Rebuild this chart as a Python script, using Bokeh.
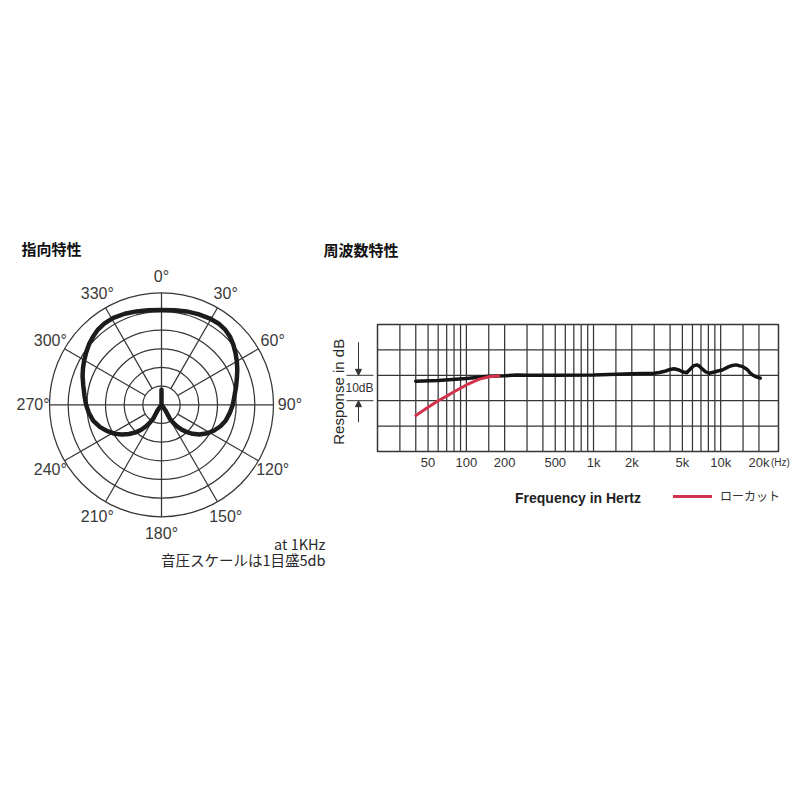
import math
from bokeh.plotting import figure
from bokeh.models import (Range1d, LogScale, LinearScale, Legend, LegendItem, Arrow,
                          NormalHead)
from bokeh.core.properties import value
from bokeh.embed import file_html
from bokeh.resources import INLINE

# ---------------- data ----------------
# polar pattern (angle in degrees clockwise from front, level in dB; centre = -30 dB)
polar_angle = [0, 8, 15, 22, 29, 35, 40, 45, 50, 55, 60, 65, 70, 76, 83, 90, 97, 104, 110,
               116, 122, 128, 133, 137, 141, 144, 147, 149, 148, 145, 180, 0, 180,
               215, 212, 211, 213, 216, 219, 223, 228, 233, 238, 244, 250, 257, 264, 270,
               277, 284, 290, 295, 300, 305, 310, 315, 320, 325, 331, 338, 345, 352, 360]
polar_level = [-4.6, -4.4, -4.1, -3.8, -3.5, -3.4, -3.6, -4.1, -4.9, -5.8, -6.7, -7.6, -8.5,
               -9.4, -10.3, -10.9, -11.6, -12.3, -13.2, -14.3, -15.6, -17.1, -18.6, -20.0,
               -21.5, -22.8, -24.3, -25.6, -26.8, -28.1, -30.0, -26.0, -30.0,
               -28.1, -26.8, -25.6, -24.3, -22.8, -21.4, -19.9, -18.3, -16.8, -15.3, -13.9,
               -12.5, -11.2, -10.4, -9.8, -9.2, -8.4, -7.5, -6.8, -6.1, -5.4, -4.7, -4.1,
               -3.6, -3.4, -3.4, -3.7, -4.1, -4.4, -4.6]
ring_levels = [-25, -20, -15, -10, -5, 0]
spoke_angles = [0, 30, 60, 90, 120, 150, 180, 210, 240, 270, 300, 330]
spoke_labels = ["0°", "30°", "60°", "90°", "120°", "150°", "180°", "210°", "240°",
                "270°", "300°", "330°"]

# frequency response
freq_black = [40, 60, 100, 150, 200, 250, 300, 500, 1000, 2000, 3000, 3300, 3700, 4000,
              4300, 4700, 5000, 5400, 5800, 6100, 6500, 6800, 7200, 7600, 8100, 8900, 9500,
              10300, 11600, 12400, 13200, 14900, 15600, 16300, 17000, 18000, 19000, 20500]
resp_black = [-2.3, -2.0, -1.3, -0.4, -0.2, 0.1, 0.0, 0.0, 0.1, 0.6, 0.8, 1.1, 1.7, 2.3,
              2.6, 2.1, 1.4, 1.0, 2.6, 3.7, 4.1, 3.6, 2.4, 1.4, 0.8, 1.3, 1.7,
              2.1, 3.4, 3.9, 4.1, 3.4, 2.8, 2.1, 1.0, 0.0, -0.6, -1.1]
freq_red = [40, 50, 60, 70, 80, 100, 125, 150, 180]
resp_red = [-15.8, -12.6, -10.0, -8.2, -6.5, -3.8, -1.6, -0.6, -0.3]

freq_span = [20, 28500]
db_span = [-30, 20]
grid_freqs = [30, 40, 50, 60, 70, 80, 90, 100, 150, 200, 300, 400, 500, 600, 700, 800, 900,
              1000, 1500, 2000, 3000, 4000, 5000, 6000, 7000, 8000, 9000, 10000, 15000, 20000]
grid_db = [-20, -10, 0, 10]
x_ticks = [50, 100, 200, 500, 1000, 2000, 5000, 10000, 20000]
x_tick_labels = ["50", "100", "200", "500", "1k", "2k", "5k", "10k", "20k"]

GRID = "#363636"
TXT = "#2a2a2a"

# ---------------- canvas / coordinate systems ----------------
W, H = 796, 600
CX, CY = 161.0, 404.3          # polar centre (px)
PPD = 112.0 / 30.0             # polar px per dB
FLOOR = -30

FR_L, FR_R, FR_T, FR_B = 377, 778, 324, 451   # response chart box (px)
F_MIN, F_MAX = freq_span
DB_MIN, DB_MAX = db_span
PXD = (FR_R - FR_L) / math.log10(F_MAX / F_MIN)
DBPX = (DB_MAX - DB_MIN) / (FR_B - FR_T)


def pxx(ix):
    return (ix - CX) / PPD


def pxy(iy):
    return (CY - iy) / PPD


def hz_at(ix):
    return F_MIN * 10 ** ((ix - FR_L) / PXD)


def db_at(iy):
    return DB_MIN + (FR_B - iy) * DBPX


p = figure(frame_width=W, frame_height=H,
           x_range=Range1d(pxx(0), pxx(W)), y_range=Range1d(pxy(H), pxy(0)),
           x_axis_location=None, y_axis_location=None, toolbar_location=None,
           output_backend="svg", min_border=0, outline_line_color=None)
p.grid.visible = False
p.extra_x_ranges = {"f": Range1d(hz_at(0), hz_at(W))}
p.extra_x_scales = {"f": LogScale()}
p.extra_y_ranges = {"db": Range1d(db_at(H), db_at(0))}
p.extra_y_scales = {"db": LinearScale()}
FD = dict(x_range_name="f", y_range_name="db")

# ---------------- polar pattern ----------------
ring_r = [lv - FLOOR for lv in ring_levels]
p.circle(x=[0] * len(ring_r), y=[0] * len(ring_r), radius=ring_r, fill_color=None,
         line_color=GRID, line_width=1.25)

x0, y0, x1, y1 = [], [], [], []
for a in spoke_angles:
    r0 = 0 if a % 90 == 0 else ring_r[0]
    t = math.radians(a)
    x0.append(r0 * math.sin(t)); y0.append(r0 * math.cos(t))
    x1.append(ring_r[-1] * math.sin(t)); y1.append(ring_r[-1] * math.cos(t))
p.segment(x0=x0, y0=y0, x1=x1, y1=y1, line_color=GRID, line_width=1.25)

LAB_R = 34.4
lx = [LAB_R * math.sin(math.radians(a)) for a in spoke_angles]
ly = [LAB_R * math.cos(math.radians(a)) for a in spoke_angles]
p.text(x=lx, y=ly, text=spoke_labels, text_align="center", text_baseline="middle",
       text_font=value("Liberation Sans"), text_font_size=value("16px"),
       text_color="#3a3a3a")

cx_ = [(lv - FLOOR) * math.sin(math.radians(a)) for a, lv in zip(polar_angle, polar_level)]
cy_ = [(lv - FLOOR) * math.cos(math.radians(a)) for a, lv in zip(polar_angle, polar_level)]
p.line(cx_, cy_, line_color="#1c1c1c", line_width=4.5, line_join="round", line_cap="round")

p.text(x=[pxx(21)], y=[pxy(247.5)], text=["指向特性"], text_align="left",
       text_baseline="middle", text_font=value("Noto Sans CJK JP"),
       text_font_style=value("bold"), text_font_size=value("15px"), text_color="#111111")
p.text(x=[pxx(325), pxx(325)], y=[pxy(543), pxy(559)],
       text=["at 1KHz", "音圧スケールは1目盛5db"], text_align="right",
       text_baseline="middle", text_font=value("Noto Sans CJK JP"),
       text_font_size=value("14.5px"), text_color=TXT)

# ---------------- frequency response chart ----------------
p.segment(x0=grid_freqs, y0=[DB_MIN] * len(grid_freqs), x1=grid_freqs,
          y1=[DB_MAX] * len(grid_freqs), line_color=GRID, line_width=1.25, **FD)
p.segment(x0=[F_MIN] * len(grid_db), y0=grid_db, x1=[F_MAX] * len(grid_db), y1=grid_db,
          line_color=GRID, line_width=1.25, **FD)
p.quad(left=[F_MIN], right=[F_MAX], bottom=[DB_MIN], top=[DB_MAX], fill_color=None,
       line_color=GRID, line_width=1.5, **FD)

p.line(freq_black, resp_black, line_color="#151515", line_width=3.5, line_join="round",
       line_cap="round", **FD)
red_r = p.line(freq_red, resp_red, line_color="#d2334b", line_width=3, line_join="round",
               line_cap="round", **FD)

# tick labels
lab_y = db_at(462)
p.text(x=x_ticks, y=[lab_y] * len(x_ticks), text=x_tick_labels, text_align="center",
       text_baseline="middle", text_font=value("Liberation Sans"),
       text_font_size=value("13px"), text_color="#333333", **FD)
p.text(x=[x_ticks[-1]], y=[lab_y], text=["(Hz)"], x_offset=12, text_align="left",
       text_baseline="middle", text_font=value("Liberation Sans"),
       text_font_size=value("10px"), text_color="#333333", **FD)
p.text(x=[math.sqrt(F_MIN * F_MAX)], y=[db_at(497)], text=["Frequency in Hertz"],
       text_align="center", text_baseline="middle", text_font=value("Liberation Sans"),
       text_font_style=value("bold"), text_font_size=value("14px"), text_color="#1f1f1f",
       **FD)
p.text(x=[hz_at(337.5)], y=[(DB_MIN + DB_MAX) / 2 - 1.5], text=["Response in dB"],
       angle=math.pi / 2, text_align="center", text_baseline="middle",
       text_font=value("Liberation Sans"), text_font_size=value("15px"),
       text_color="#2a2a2a", **FD)
p.text(x=[hz_at(359)], y=[-5], text=["10dB"], text_align="center", text_baseline="middle",
       text_font=value("Liberation Sans"), text_font_size=value("12px"),
       text_color="#333333", **FD)
p.text(x=[hz_at(323)], y=[db_at(248.5)], text=["周波数特性"], text_align="left",
       text_baseline="middle", text_font=value("Noto Sans CJK JP"),
       text_font_style=value("bold"), text_font_size=value("15px"), text_color="#111111",
       **FD)

# 10 dB scale mark
p.segment(x0=[hz_at(346)] * 2, y0=[0, -10], x1=[hz_at(373)] * 2, y1=[0, -10],
          line_color="#333333", line_width=1, **FD)
x_arrow = hz_at(358)
p.add_layout(Arrow(x_start=x_arrow, y_start=db_at(341.7), x_end=x_arrow, y_end=0,
                   end=NormalHead(size=6, fill_color="#333333", line_color="#333333"),
                   line_color="#333333", line_width=1, **FD))
p.add_layout(Arrow(x_start=x_arrow, y_start=db_at(421.7), x_end=x_arrow, y_end=-10,
                   end=NormalHead(size=6, fill_color="#333333", line_color="#333333"),
                   line_color="#333333", line_width=1, **FD))

legend = Legend(items=[LegendItem(label="ローカット", renderers=[red_r])],
                location=(673, H - 490 - 14), orientation="horizontal",
                glyph_width=39, glyph_height=14, label_height=14, label_standoff=8,
                padding=0, margin=0, border_line_color=None, background_fill_alpha=0,
                label_text_font="Noto Sans CJK JP", label_text_font_size="12px",
                label_text_color="#333333")
p.add_layout(legend)

open("out.html", "w").write(file_html(p, INLINE))
